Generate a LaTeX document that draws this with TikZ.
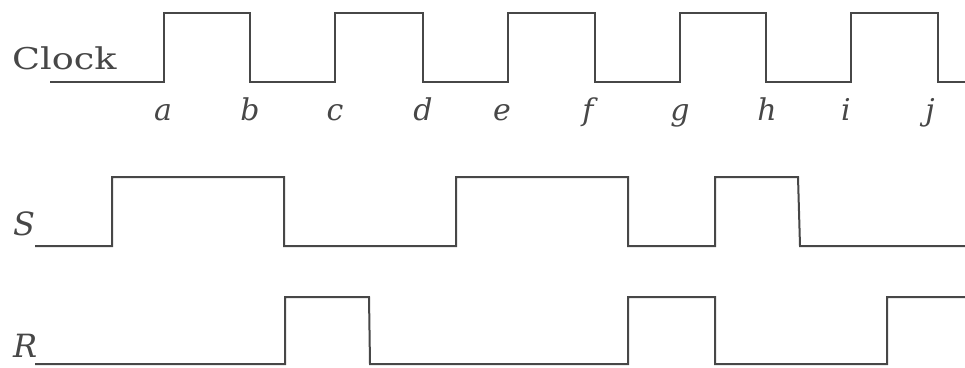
\documentclass[tikz,border=0pt]{standalone}
\usepackage{fontspec}
\setmainfont{DejaVu Serif}
\begin{document}
\begin{tikzpicture}[x=1pt,y=-1pt,
  wave/.style={draw=black!72,line width=2pt,line join=miter},
  lbl/.style={text=black!72,inner sep=0pt,font=\fontsize{30}{34}\selectfont},
  tick/.style={lbl,anchor=base,font=\fontsize{30}{34}\selectfont\itshape}]
\useasboundingbox (0,0) rectangle (965,367);
% labels
\node[lbl,anchor=base west,xscale=1.22] (clk) at (12,69) {Clock};
\node[lbl,anchor=base west,font=\fontsize{32}{34}\selectfont\itshape] (sl) at (13,235) {S};
\node[lbl,anchor=base west,font=\fontsize{32}{34}\selectfont\itshape] (rl) at (13,357) {R};
\foreach \t/\x in {a/163,b/250,c/335,d/423,e/502,f/588,g/680,h/767,i/846,j/930}
  \node[tick] (t\t) at (\x,120) {\t};
% clock
\draw[wave] (50,82) -- (164,82) -- (164,13) -- (250,13) -- (250,82) -- (335,82) -- (335,13)
  -- (423,13) -- (423,82) -- (508,82) -- (508,13) -- (595,13) -- (595,82) -- (680,82)
  -- (680,13) -- (766,13) -- (766,82) -- (851,82) -- (851,13) -- (938,13) -- (938,82) -- (965,82);
% S
\draw[wave] (35,246) -- (112,246) -- (112,177) -- (284,177) -- (284,246) -- (456,246)
  -- (456,177) -- (628,177) -- (628,246) -- (715,246) -- (715,177) -- (798,177)
  -- (800,246) -- (965,246);
% R
\draw[wave] (35,364) -- (285,364) -- (285,297) -- (369,297) -- (370,364) -- (628,364)
  -- (628,297) -- (715,297) -- (715,364) -- (887,364) -- (887,297) -- (965,297);
\end{tikzpicture}
\end{document}
